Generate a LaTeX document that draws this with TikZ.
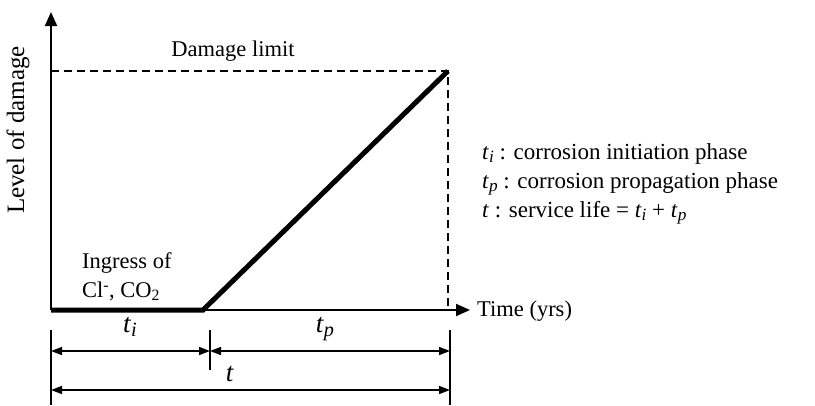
\documentclass[tikz,border=0pt]{standalone}
\usepackage{fontspec}
\setmainfont{Liberation Serif}
\usetikzlibrary{arrows.meta}

\newcommand{\tsub}[1]{\textit{t}\raisebox{-0.35ex}{\scalebox{0.75}{\textit{#1}}}}

\begin{document}
\begin{tikzpicture}[x=1pt,y=-1pt,
  lbl/.style={inner sep=0pt,font=\fontsize{22.5}{29}\selectfont},
  dimlbl/.style={inner sep=0pt,font=\fontsize{27}{29}\selectfont},
  axis/.style={line width=2pt,-{Triangle[length=14pt,width=12pt]}},
  dim/.style={line width=1.5pt,{Triangle[length=11pt,width=8pt]}-{Triangle[length=11pt,width=8pt]}},
  tickln/.style={line width=1.5pt},
  limit/.style={line width=1.5pt,dash pattern=on 8pt off 5pt}]
\useasboundingbox (0,0) rectangle (815,405);

% axes
\coordinate (o) at (51,310);
\coordinate (ytop) at (51,12);
\coordinate (xend) at (470,310);
\draw[axis] (o) -- (ytop);
\draw[axis] (o) -- (xend);
\node[lbl,rotate=90,font=\fontsize{25}{29}\selectfont] (ylab) at (18,130) {Level of damage};
\node[lbl,anchor=west] (xlab) at (477,311) {Time (yrs)};

% damage curve
\coordinate (ti) at (203,310);
\coordinate (lim) at (448,71);
\coordinate (limy) at (51,71);
\coordinate (limx) at (448,310);
\draw[limit] (limy) -- (lim) -- (limx);
\draw[line width=5pt] (o) -- (ti) -- (lim);
\node[lbl] (dlim) at (233,51) {Damage limit};
\node[lbl,anchor=west,align=left] (ingress) at (82,277) {Ingress of\\Cl\textsuperscript{-}, CO\textsubscript{2}};

% legend
\node[lbl,anchor=west,align=left,font=\fontsize{23}{29}\selectfont] (legend) at (482,184) {\tsub{i} : corrosion initiation phase\\
  \tsub{p} : corrosion propagation phase\\
  \textit{t} : service life = \tsub{i} + \tsub{p}};

% dimensions
\coordinate (a1) at (51,330);
\coordinate (a2) at (51,405);
\coordinate (b1) at (210,330);
\coordinate (b2) at (210,370);
\coordinate (c1) at (450,330);
\coordinate (c2) at (450,405);
\draw[tickln] (a1) -- (a2);
\draw[tickln] (b1) -- (b2);
\draw[tickln] (c1) -- (c2);
\coordinate (ai) at (51,351);
\coordinate (bi) at (210,351);
\coordinate (ci) at (450,351);
\coordinate (at) at (51,390);
\coordinate (ct) at (450,390);
\draw[dim] (ai) -- (bi);
\draw[dim] (bi) -- (ci);
\draw[dim] (at) -- (ct);
\node[dimlbl] (lti) at (130,327) {\tsub{i}};
\node[dimlbl] (ltp) at (325,329) {\tsub{p}};
\node[dimlbl] (lt) at (230,374) {\textit{t}};
\end{tikzpicture}
\end{document}
